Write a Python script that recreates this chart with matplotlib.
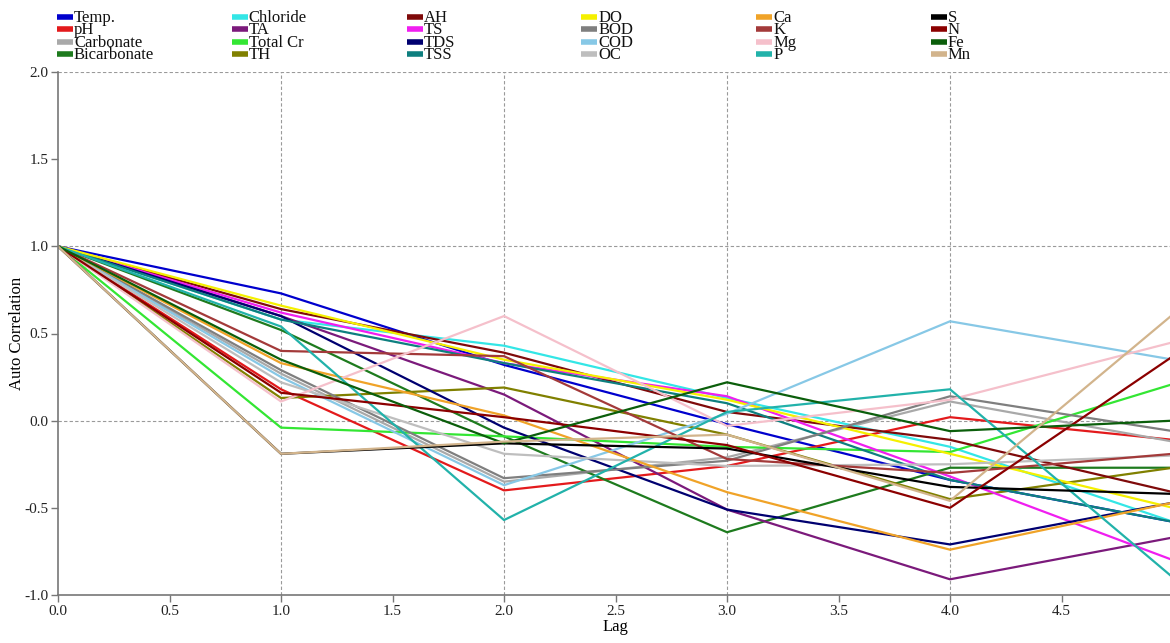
import matplotlib
matplotlib.use("Agg")
import matplotlib.pyplot as plt
from matplotlib.lines import Line2D

plt.rcParams['font.family'] = ['Liberation Serif', 'DejaVu Serif']

lags = [0, 1, 2, 3, 4, 5]

names = ["Temp.", "pH", "Carbonate", "Bicarbonate",
         "Chloride", "TA", "Total Cr", "TH",
         "AH", "TS", "TDS", "TSS",
         "DO", "BOD", "COD", "OC",
         "Ca", "K", "Mg", "P",
         "S", "N", "Fe", "Mn"]

colors = ["#0000CD", "#E31A1C", "#A9A9A9", "#1E7B1E",
          "#33E6E6", "#7B1A7B", "#33E633", "#808000",
          "#7F0A0A", "#F01EF0", "#000070", "#0E7F7F",
          "#F5F000", "#7F7F7F", "#87C8E6", "#BEBEBE",
          "#F0A328", "#A33A3A", "#F5C0CB", "#22B2AA",
          "#000000", "#8B0000", "#0B5E0B", "#D2B48C"]

temp        = [1.0, 0.73, 0.32, -0.02, -0.34, -0.58]
ph          = [1.0, 0.18, -0.40, -0.26, 0.02, -0.11]
carbonate   = [1.0, 0.27, -0.35, -0.21, 0.11, -0.12]
bicarbonate = [1.0, 0.52, -0.09, -0.64, -0.27, -0.27]
chloride    = [1.0, 0.58, 0.43, 0.13, -0.15, -0.58]
ta          = [1.0, 0.60, 0.15, -0.51, -0.91, -0.67]
total_cr    = [1.0, -0.04, -0.09, -0.15, -0.18, 0.21]
th          = [1.0, 0.13, 0.19, -0.08, -0.45, -0.27]
ah          = [1.0, 0.64, 0.39, 0.05, -0.11, -0.41]
ts          = [1.0, 0.62, 0.33, 0.14, -0.32, -0.80]
tds         = [1.0, 0.60, -0.04, -0.51, -0.71, -0.47]
tss         = [1.0, 0.58, 0.33, 0.10, -0.34, -0.58]
do          = [1.0, 0.66, 0.35, 0.12, -0.19, -0.50]
bod         = [1.0, 0.29, -0.33, -0.23, 0.14, -0.06]
cod         = [1.0, 0.25, -0.37, 0.04, 0.57, 0.35]
oc          = [1.0, 0.22, -0.19, -0.26, -0.25, -0.20]
ca          = [1.0, 0.33, 0.03, -0.41, -0.74, -0.47]
k           = [1.0, 0.40, 0.37, -0.22, -0.30, -0.19]
mg          = [1.0, 0.11, 0.60, -0.03, 0.12, 0.45]
p           = [1.0, 0.54, -0.57, 0.05, 0.18, -0.90]
s           = [1.0, -0.19, -0.13, -0.16, -0.38, -0.42]
n           = [1.0, 0.16, 0.02, -0.14, -0.50, 0.37]
fe          = [1.0, 0.35, -0.13, 0.22, -0.06, 0.00]
mn          = [1.0, -0.19, -0.12, -0.08, -0.46, 0.61]

series = [temp, ph, carbonate, bicarbonate, chloride, ta, total_cr, th,
          ah, ts, tds, tss, do, bod, cod, oc, ca, k, mg, p, s, n, fe, mn]

W, H = 1170, 643
fig = plt.figure(figsize=(W / 100, H / 100), dpi=100)
ax = fig.add_axes([58 / W, (H - 595) / H, (1173 - 58) / W, (595 - 72) / H])

for vals, c in zip(series, colors):
    ax.plot(lags, vals, color=c, lw=1.6, clip_on=True)

ax.set_xlim(0, 5)
ax.set_ylim(-1, 2)
ax.set_xticks([0, 0.5, 1, 1.5, 2, 2.5, 3, 3.5, 4, 4.5])
ax.set_xticklabels(["0.0", "0.5", "1.0", "1.5", "2.0", "2.5", "3.0", "3.5", "4.0", "4.5"])
ax.set_yticks([-1, -0.5, 0, 0.5, 1, 1.5, 2])
ax.set_yticklabels(["-1.0", "-0.5", "0.0", "0.5", "1.0", "1.5", "2.0"])

for gx in [1, 2, 3, 4]:
    ax.axvline(gx, color="#9a9a9a", lw=0.8, ls=(0, (3, 2)), zorder=0)
for gy in [0, 1, 2]:
    ax.axhline(gy, color="#9a9a9a", lw=0.8, ls=(0, (3, 2)), zorder=0)

for side in ["top", "right"]:
    ax.spines[side].set_visible(False)
for side in ["left", "bottom"]:
    ax.spines[side].set_color("#777777")
    ax.spines[side].set_linewidth(1.2)
ax.tick_params(axis="both", colors="#777777", labelcolor="#222222",
               labelsize=11, length=5, width=1)
ax.tick_params(axis="x", pad=2)
ax.tick_params(axis="y", pad=2)

ax.set_xlabel("Lag", fontsize=12, labelpad=1)
ax.set_ylabel("Auto Correlation", fontsize=12)
ax.yaxis.set_label_coords((25 - 58) / (1173 - 58), 0.5)

# legend: 6 equally spaced columns, 4 rows
for i, (name, c) in enumerate(zip(names, colors)):
    col, row = divmod(i, 4)
    x0 = 57 + col * 174.8
    yc = 16.5 + row * 12.6
    fig.add_artist(Line2D([x0 / W, (x0 + 16) / W], [1 - yc / H, 1 - yc / H],
                          color=c, lw=4, solid_capstyle="butt",
                          transform=fig.transFigure))
    fig.text((x0 + 17) / W, 1 - (yc + 1) / H, name, fontsize=12,
             va="center", ha="left", color="#111111")

fig.savefig("out.png", dpi=100)
